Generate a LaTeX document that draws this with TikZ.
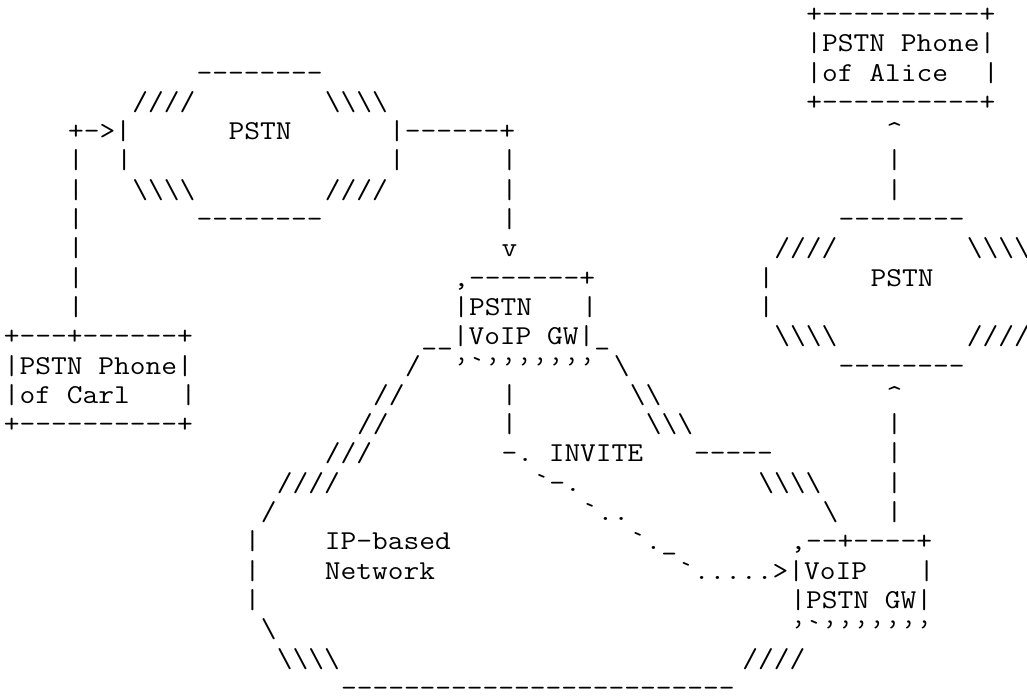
\documentclass[tikz,border=0pt]{standalone}
\usepackage{fontspec}
\setmonofont{Latin Modern Mono}[FakeStretch=1.12]
\newcounter{tn}
\newcommand\BS{\textbackslash}
\newcommand\CI{\textasciicircum}
\tikzset{txt/.style={anchor=base west, inner sep=0pt, outer sep=0pt,
  font=\ttfamily\fontsize{20.47}{24}\selectfont, text=black}}
\newcommand\T[3]{\stepcounter{tn}\node[txt] (t\arabic{tn}) at ({3.975+16.05*#1},{-22.4-29.3*#2}) {#3};}
\begin{document}
\begin{tikzpicture}[x=0.75pt,y=0.75pt]
\fill[white] (0,0) rectangle (1027,-696);
\useasboundingbox (0,0) rectangle (1027,-696);
% row 0-3 : Alice box and top of left PSTN
\T{50}{0}{+----------+}
\T{50}{1}{|PSTN Phone|}
\T{12}{2}{--------}
\T{50}{2}{|of Alice}
\T{61}{2}{|}
\T{8}{3}{////}
\T{20}{3}{\BS\BS\BS\BS}
\T{50}{3}{+----------+}
% row 4-7
\T{4}{4}{+->|}
\T{14}{4}{PSTN}
\T{24}{4}{|------+}
\T{55}{4}{\CI}
\T{4}{5}{|}
\T{7}{5}{|}
\T{24}{5}{|}
\T{31}{5}{|}
\T{55}{5}{|}
\T{4}{6}{|}
\T{8}{6}{\BS\BS\BS\BS}
\T{20}{6}{////}
\T{31}{6}{|}
\T{55}{6}{|}
\T{4}{7}{|}
\T{12}{7}{--------}
\T{31}{7}{|}
\T{52}{7}{--------}
% row 8-12
\T{4}{8}{|}
\T{31}{8}{v}
\T{48}{8}{////}
\T{60}{8}{\BS\BS\BS\BS}
\T{4}{9}{|}
\T{28}{9}{,-------+}
\T{47}{9}{|}
\T{54}{9}{PSTN}
\T{4}{10}{|}
\T{28}{10}{|PSTN}
\T{36}{10}{|}
\T{47}{10}{|}
\T{0}{11}{+---+------+}
\T{26}{11}{\_\_|VoIP GW|\_}
\T{48}{11}{\BS\BS\BS\BS}
\T{60}{11}{////}
\T{0}{12}{|PSTN Phone|}
\T{25}{12}{/}
\T{28}{12}{’`’’’’’’’}
\T{38}{12}{\BS}
\T{52}{12}{--------}
% row 13-17
\T{0}{13}{|of Carl}
\T{11}{13}{|}
\T{23}{13}{//}
\T{31}{13}{|}
\T{39}{13}{\BS\BS}
\T{55}{13}{\CI}
\T{0}{14}{+----------+}
\T{22}{14}{//}
\T{31}{14}{|}
\T{40}{14}{\BS\BS\BS}
\T{55}{14}{|}
\T{20}{15}{///}
\T{31}{15}{-. INVITE}
\T{43}{15}{-----}
\T{55}{15}{|}
\T{17}{16}{////}
\T{33}{16}{`-.}
\T{47}{16}{\BS\BS\BS\BS}
\T{55}{16}{|}
\T{16}{17}{/}
\T{36}{17}{`..}
\T{51}{17}{\BS}
\T{55}{17}{|}
% row 18-23
\T{15}{18}{|}
\T{20}{18}{IP-based}
\T{39}{18}{`.\_}
\T{49}{18}{,--+----+}
\T{15}{19}{|}
\T{20}{19}{Network}
\T{42}{19}{`.....>|VoIP}
\T{57}{19}{|}
\T{15}{20}{|}
\T{49}{20}{|PSTN GW|}
\T{16}{21}{\BS}
\T{49}{21}{’`’’’’’’’}
\T{17}{22}{\BS\BS\BS\BS}
\T{46}{22}{////}
\T{21}{23}{-------------------------}
\end{tikzpicture}
\end{document}
